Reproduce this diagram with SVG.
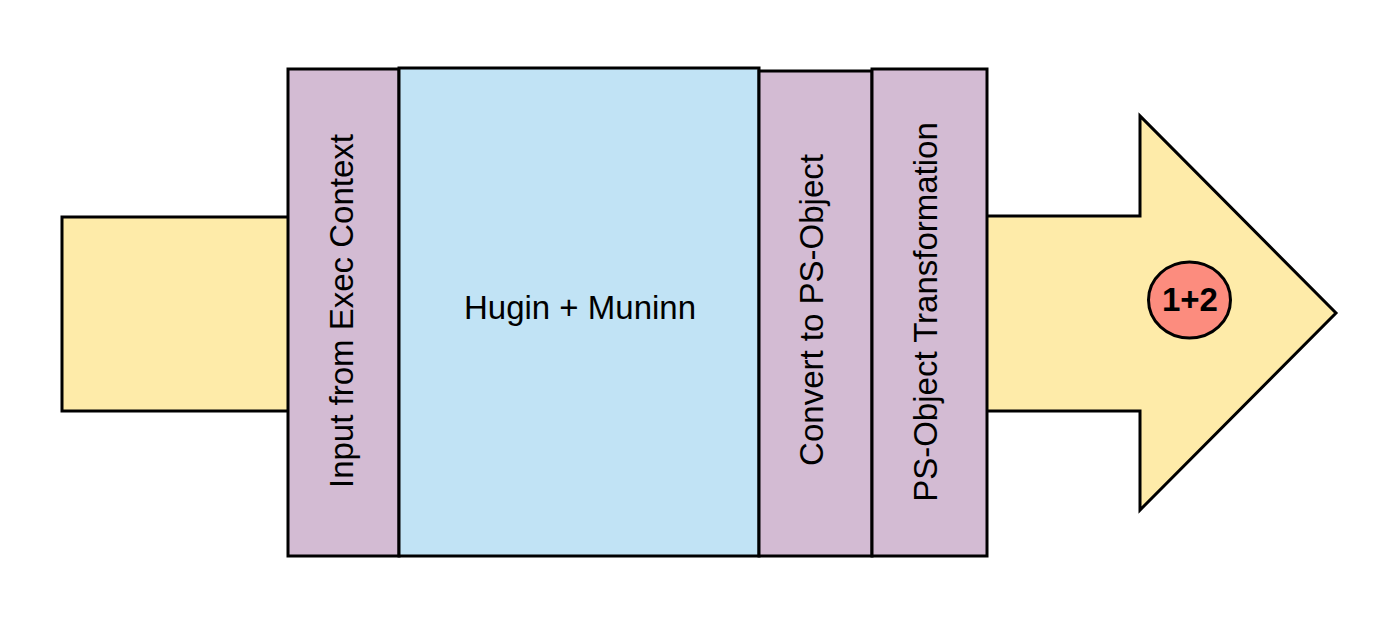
<svg xmlns="http://www.w3.org/2000/svg" width="1399" height="629" viewBox="0 0 1399 629">
<style>
.ln{stroke:#000;stroke-width:3;stroke-linejoin:miter}
.yel{fill:#FEEBA9}
.pur{fill:#D3BBD3}
.blu{fill:#C1E3F5}
.red{fill:#FC8C7E}
.t{font-family:"Liberation Sans",Arial,sans-serif;font-size:33px;fill:#000;text-anchor:middle}
.b{font-weight:bold}
</style>
<rect width="1399" height="629" fill="#fff"/>
<g id="connectors">
<rect id="input-arrow" class="ln yel" x="62" y="217" width="240" height="194"/>
<polygon id="output-arrow" class="ln yel" points="975,216 1140,216 1140,116 1336,313 1140,510 1140,411 975,411"/>
</g>
<g id="input-exec">
<rect class="ln pur" x="288" y="69" width="111" height="487"/>
<text class="t" transform="translate(353,311) rotate(-90)">Input from Exec Context</text>
</g>
<g id="hugin-muninn">
<rect class="ln blu" x="399" y="68" width="360" height="488"/>
<text class="t" x="580" y="319">Hugin + Muninn</text>
</g>
<g id="convert-ps">
<rect class="ln pur" x="759" y="71" width="113" height="485"/>
<text class="t" transform="translate(823,310) rotate(-90)">Convert to PS-Object</text>
</g>
<g id="ps-transform">
<rect class="ln pur" x="872" y="69" width="115" height="487"/>
<text class="t" transform="translate(937,312) rotate(-90)">PS-Object Transformation</text>
</g>
<g id="badge">
<ellipse class="ln red" cx="1189.5" cy="300" rx="41" ry="38"/>
<text class="t b" x="1190" y="311">1+2</text>
</g>
</svg>
